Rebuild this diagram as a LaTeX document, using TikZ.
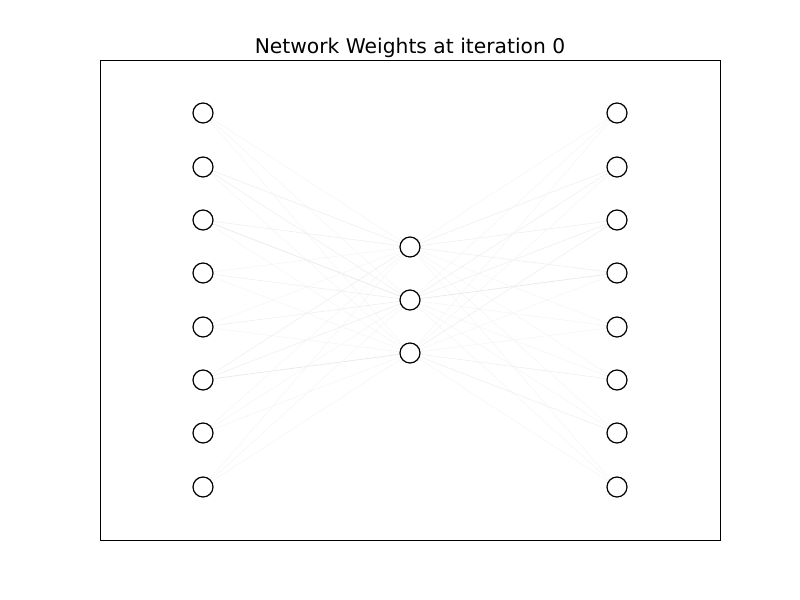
\documentclass[tikz,border=0pt]{standalone}
\usepackage{fontspec}
\setmainfont{DejaVu Sans}
\begin{document}
\begin{tikzpicture}[x=0.75pt,y=-0.75pt,
  neuron/.style={circle,draw=black,fill=white,line width=0.9pt,minimum size=15pt,inner sep=0pt},
  wA/.style={draw=black!6,line width=0.5pt},
  wB/.style={draw=black!3.5,line width=0.5pt},
  wC/.style={draw=black!9,line width=0.5pt}]
\useasboundingbox (0,0) rectangle (800,600);
\draw[line width=0.75pt] (100,60) rectangle (720,540);
\node[anchor=base,font=\fontsize{15.2}{18}\selectfont] (title) at (410,53) {Network Weights at iteration 0};
\foreach \i/\y in {1/113,2/167,3/220,4/273,5/327,6/380,7/433,8/487}{
  \coordinate (l\i) at (203,\y);
  \coordinate (r\i) at (617,\y);
}
\foreach \j/\y in {1/247,2/300,3/353}{ \coordinate (m\j) at (410,\y); }
% input -> hidden
\foreach \i/\j/\s in {1/1/wB,1/2/wB,1/3/wB,2/1/wA,2/2/wA,2/3/wB,3/1/wA,3/2/wC,3/3/wB,
  4/1/wB,4/2/wA,4/3/wB,5/1/wB,5/2/wA,5/3/wB,6/1/wA,6/2/wA,6/3/wC,
  7/1/wB,7/2/wB,7/3/wB,8/1/wB,8/2/wB,8/3/wB}{
  \draw[\s] (l\i) -- (m\j);
}
% hidden -> output
\foreach \j/\i/\s in {1/1/wB,1/2/wA,1/3/wA,1/4/wA,1/5/wB,1/6/wB,1/7/wB,1/8/wB,
  2/1/wB,2/2/wA,2/3/wA,2/4/wC,2/5/wB,2/6/wB,2/7/wB,2/8/wB,
  3/1/wB,3/2/wB,3/3/wA,3/4/wB,3/5/wB,3/6/wA,3/7/wA,3/8/wB}{
  \draw[\s] (m\j) -- (r\i);
}
\foreach \i in {1,...,8}{
  \node[neuron] (L\i) at (l\i) {};
  \node[neuron] (R\i) at (r\i) {};
}
\foreach \j in {1,2,3}{ \node[neuron] (M\j) at (m\j) {}; }
\end{tikzpicture}
\end{document}
